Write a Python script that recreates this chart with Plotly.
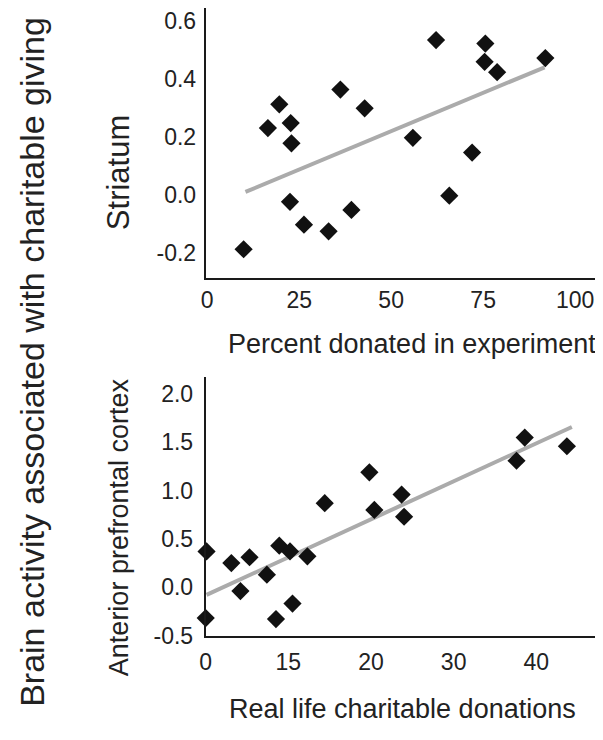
import plotly.graph_objects as go

# ---- Data: top panel (Striatum vs percent donated) ----
pct_donated = [9.9, 16.5, 19.6, 22.7, 22.9, 22.5, 26.3, 33.0, 36.2, 39.2,
               42.8, 55.9, 62.2, 65.8, 72.0, 75.6, 75.4, 78.8, 91.9]
striatum = [-0.188, 0.231, 0.313, 0.248, 0.178, -0.024, -0.103, -0.126, 0.364, -0.052,
            0.299, 0.197, 0.535, -0.003, 0.146, 0.523, 0.460, 0.424, 0.473]
top_fit_x = [10.4, 91.7]
top_fit_y = [0.010, 0.441]
top_xticks = [0, 25, 50, 75, 100]
top_xticklabels = ["0", "25", "50", "75", "100"]
top_yticks = [-0.2, 0.0, 0.2, 0.4, 0.6]
top_yticklabels = ["-0.2", "0.0", "0.2", "0.4", "0.6"]

# ---- Data: bottom panel (Anterior prefrontal cortex vs real life donations) ----
real_donations = [0.1, 0.0, 3.1, 4.2, 5.3, 7.4, 8.5, 8.9, 10.2, 10.5,
                  12.3, 14.4, 19.8, 20.4, 23.7, 24.0, 37.6, 38.6, 43.7]
apc = [0.37, -0.32, 0.25, -0.04, 0.31, 0.13, -0.33, 0.43, 0.37, -0.17,
       0.32, 0.87, 1.19, 0.80, 0.96, 0.73, 1.31, 1.55, 1.46]
bot_fit_x = [0.1, 44.3]
bot_fit_y = [-0.08, 1.66]
bot_xticks = [0, 10, 20, 30, 40]
bot_xticklabels = ["0", "15", "20", "30", "40"]
bot_yticks = [-0.5, 0.0, 0.5, 1.0, 1.5, 2.0]
bot_yticklabels = ["-0.5", "0.0", "0.5", "1.0", "1.5", "2.0"]

FONT = "Liberation Sans, Arial, Helvetica, sans-serif"
TXT = "#222222"
OFF = 8  # browser default body margin
W, H = 603 - 2 * OFF, 740 - 2 * OFF  # keep page free of scrollbars


def px(x):
    return min(max((x - OFF) / W, 0), 1)


def py(y):
    return min(max(1 - (y - OFF) / H, 0), 1)


fig = go.Figure()

line_style = dict(color="#ababab", width=4)
marker_style = dict(symbol="diamond", size=14, color="#111111", line=dict(width=0))

fig.add_trace(go.Scatter(x=top_fit_x, y=top_fit_y, mode="lines", line=line_style,
                         xaxis="x", yaxis="y", hoverinfo="skip"))
fig.add_trace(go.Scatter(x=pct_donated, y=striatum, mode="markers", marker=marker_style,
                         xaxis="x", yaxis="y", cliponaxis=False))
fig.add_trace(go.Scatter(x=bot_fit_x, y=bot_fit_y, mode="lines", line=line_style,
                         xaxis="x2", yaxis="y2", hoverinfo="skip"))
fig.add_trace(go.Scatter(x=real_donations, y=apc, mode="markers", marker=marker_style,
                         xaxis="x2", yaxis="y2", cliponaxis=False))

ax_common = dict(showline=True, linecolor="#1a1a1a", linewidth=2, showgrid=False,
                 zeroline=False, ticks="", tickfont=dict(family=FONT, size=23, color=TXT))

fig.update_layout(
    width=W, height=H,
    margin=dict(l=0, r=0, t=0, b=0),
    paper_bgcolor="white", plot_bgcolor="white",
    showlegend=False,
    xaxis=dict(domain=[px(201.7), px(595)], range=[-0.4, 105.4], tickvals=top_xticks,
               ticktext=top_xticklabels, anchor="y", ticklabelstandoff=0, **ax_common),
    yaxis=dict(domain=[py(283), py(8)], range=[-0.289, 0.646], tickvals=top_yticks,
               ticktext=top_yticklabels, anchor="x", ticklabelstandoff=3, **ax_common),
    xaxis2=dict(domain=[px(201.7), px(595)], range=[0, 47.1], tickvals=bot_xticks,
                ticktext=bot_xticklabels, anchor="y2", ticklabelstandoff=4, **ax_common),
    yaxis2=dict(domain=[py(647), py(383)], range=[-0.51, 2.18], tickvals=bot_yticks,
                ticktext=bot_yticklabels, anchor="x2", ticklabelstandoff=6, **ax_common),
)


def ann(text, x, y, size, angle=0):
    fig.add_annotation(text=text, x=px(x), y=py(y), xref="paper", yref="paper",
                       showarrow=False, textangle=angle, xanchor="center", yanchor="middle",
                       font=dict(family=FONT, size=size, color=TXT))


ann("Percent donated in experiment", 410, 350, 27)
ann("Real life charitable donations", 401, 721, 27)
ann("Striatum", 113, 175, 31, -90)
ann("Anterior prefrontal cortex", 114, 536, 27, -90)
ann("Brain activity associated with charitable giving", 26, 368, 34, -90)

fig.write_html("out.html")
